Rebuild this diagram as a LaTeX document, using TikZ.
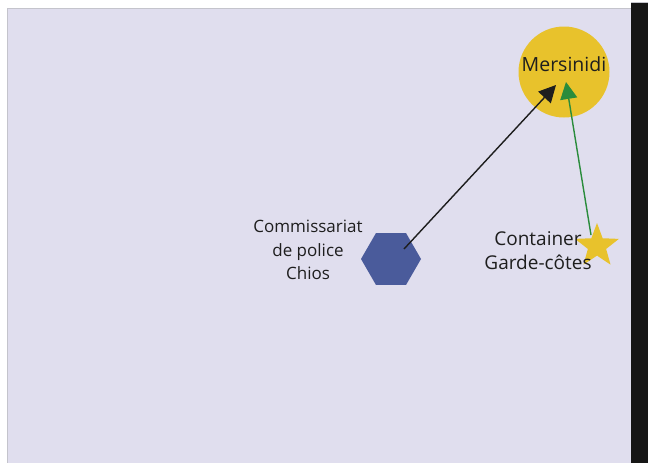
\documentclass[tikz,border=0pt]{standalone}
\usepackage{fontspec}
\setmainfont{Open Sans}
\usetikzlibrary{shapes.geometric,arrows.meta}
\definecolor{bgl}{HTML}{E0DEEE}
\definecolor{edgegray}{HTML}{C4C4CC}
\definecolor{strip}{HTML}{161616}
\definecolor{gold}{HTML}{E8C22C}
\definecolor{hexblue}{HTML}{4A5B9B}
\definecolor{arrgreen}{HTML}{2A8C3C}
\definecolor{txt}{HTML}{1E1E1E}
\tikzset{
  lbl/.style={font=\fontsize{17}{23.5}\selectfont, text=txt, align=center, inner sep=0pt},
  conn/.style={line width=1.4pt, -{Triangle[length=17pt,width=17pt]}}
}
\begin{document}
\begin{tikzpicture}[x=1pt,y=-1pt]
\useasboundingbox (0,0) rectangle (648,463);
\fill[white] (0,0) rectangle (648,463);
\fill[bgl, draw=edgegray, line width=1pt] (7,463) -- (7,8) -- (631,8) -- (631,463);
\fill[strip] (631,2) rectangle (648,463);
\draw[edgegray, line width=1pt] (631,2.5) -- (648,2.5);
\node[circle, fill=gold, minimum size=91pt, inner sep=0pt] (mers) at (564,72) {};
\node[lbl, font=\fontsize{19.5}{23.5}\selectfont] (merst) at (564,64) {Mersinidi};
\node[regular polygon, regular polygon sides=6, fill=hexblue, minimum size=60pt, inner sep=0pt] (hex) at (391,259) {};
\node[lbl] (comm) at (308,250) {Commissariat\\de police\\Chios};
\node[star, star points=5, star point ratio=2.4, fill=gold, minimum size=46pt, inner sep=0pt] (star) at (597,246) {};
\node[lbl, font=\fontsize{19}{24}\selectfont] (cont) at (538,251) {Container\\Garde-côtes};
\coordinate (a1) at (404,249);
\coordinate (a2) at (556,85);
\coordinate (g1) at (591,235);
\coordinate (g2) at (566,82);
\draw[conn, draw=txt, fill=txt] (a1) -- (a2);
\draw[conn, draw=arrgreen, fill=arrgreen] (g1) -- (g2);
\end{tikzpicture}
\end{document}
